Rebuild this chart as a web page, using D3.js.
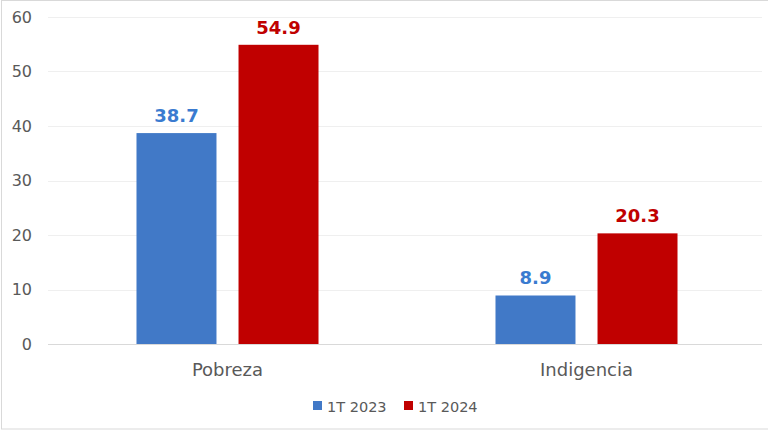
<!DOCTYPE html>
<html><head><meta charset="utf-8">
<script src="https://cdn.jsdelivr.net/npm/d3@7"></script>
<style>html,body{margin:0;padding:0;background:#fff;}svg{display:block;}</style>
</head><body>
<svg id="c" width="768" height="431"></svg>
<script>
const categories = ["Pobreza", "Indigencia"];
const seriesNames = ["1T 2023", "1T 2024"];
const values2023 = [38.7, 8.9];
const values2024 = [54.9, 20.3];
const yTicks = [0, 10, 20, 30, 40, 50, 60];
const colors = ["#4179C7", "#C00000"];
const labelColors = ["#3A7BD0", "#C00000"];

const svg = d3.select("#c");
const W = 768, H = 431;
const font = "'DejaVu Sans', Verdana, sans-serif";

svg.append("rect").attr("x", 1.5).attr("y", 0.5).attr("width", 767).attr("height", 428.5)
  .attr("fill", "#fff").attr("stroke", "#d9d9d9").attr("stroke-width", 1);

const y = d3.scaleLinear().domain([0, 60]).range([344, 17]);
const x0 = d3.scaleBand().domain(categories).range([48, 766]).paddingInner(0.493).paddingOuter(0.2465);
const x1 = d3.scaleBand().domain(seriesNames).range([0, x0.bandwidth()]).paddingInner(0.216).paddingOuter(0);

// gridlines
svg.append("g").selectAll("line").data(yTicks.filter(d => d > 0)).join("line")
  .attr("x1", 48).attr("x2", 762)
  .attr("y1", d => Math.round(y(d)) + 0.5).attr("y2", d => Math.round(y(d)) + 0.5)
  .attr("stroke", "#efefef").attr("stroke-width", 1);

// y axis
const yAxis = d3.axisLeft(y).tickValues(yTicks).tickSize(0).tickPadding(0).tickFormat(d3.format("d"));
const ga = svg.append("g").attr("transform", "translate(32,0)").call(yAxis);
ga.select(".domain").remove();
ga.selectAll("text").attr("font-family", font).attr("font-size", 16).attr("fill", "#595959");

const data = categories.map((c, i) => ({ cat: c, vals: [values2023[i], values2024[i]] }));

const groups = svg.append("g").selectAll("g").data(data).join("g")
  .attr("transform", d => `translate(${x0(d.cat)},0)`);

groups.selectAll("rect").data(d => d.vals.map((v, j) => ({ s: seriesNames[j], v, j }))).join("rect")
  .attr("x", d => x1(d.s)).attr("width", x1.bandwidth())
  .attr("y", d => y(d.v)).attr("height", d => y(0) - y(d.v))
  .attr("fill", d => colors[d.j]);

groups.selectAll("text").data(d => d.vals.map((v, j) => ({ s: seriesNames[j], v, j }))).join("text")
  .attr("x", d => x1(d.s) + x1.bandwidth() / 2).attr("y", d => y(d.v) - 11)
  .attr("text-anchor", "middle").attr("font-family", font).attr("font-weight", "bold")
  .attr("font-size", 18).attr("fill", d => labelColors[d.j])
  .text(d => d3.format(".1f")(d.v));

// baseline
svg.append("line").attr("x1", 48).attr("x2", 762).attr("y1", 344.5).attr("y2", 344.5)
  .attr("stroke", "#d9d9d9").attr("stroke-width", 1);

// x axis labels
const xAxis = d3.axisBottom(x0).tickSize(0).tickPadding(0);
const gx = svg.append("g").attr("transform", "translate(0,363)").call(xAxis);
gx.select(".domain").remove();
gx.selectAll("text").attr("font-family", font).attr("font-size", 18).attr("fill", "#595959");

// legend
const legX = [313, 404];
const lg = svg.append("g").selectAll("g").data(seriesNames).join("g")
  .attr("transform", (d, i) => `translate(${legX[i]},0)`);
lg.append("rect").attr("x", 0).attr("y", 401).attr("width", 9).attr("height", 9)
  .attr("fill", (d, i) => colors[i]);
lg.append("text").attr("x", 14).attr("y", 412).attr("font-family", font).attr("font-size", 14.5)
  .attr("fill", "#595959").text(d => d);
</script>
</body></html>
